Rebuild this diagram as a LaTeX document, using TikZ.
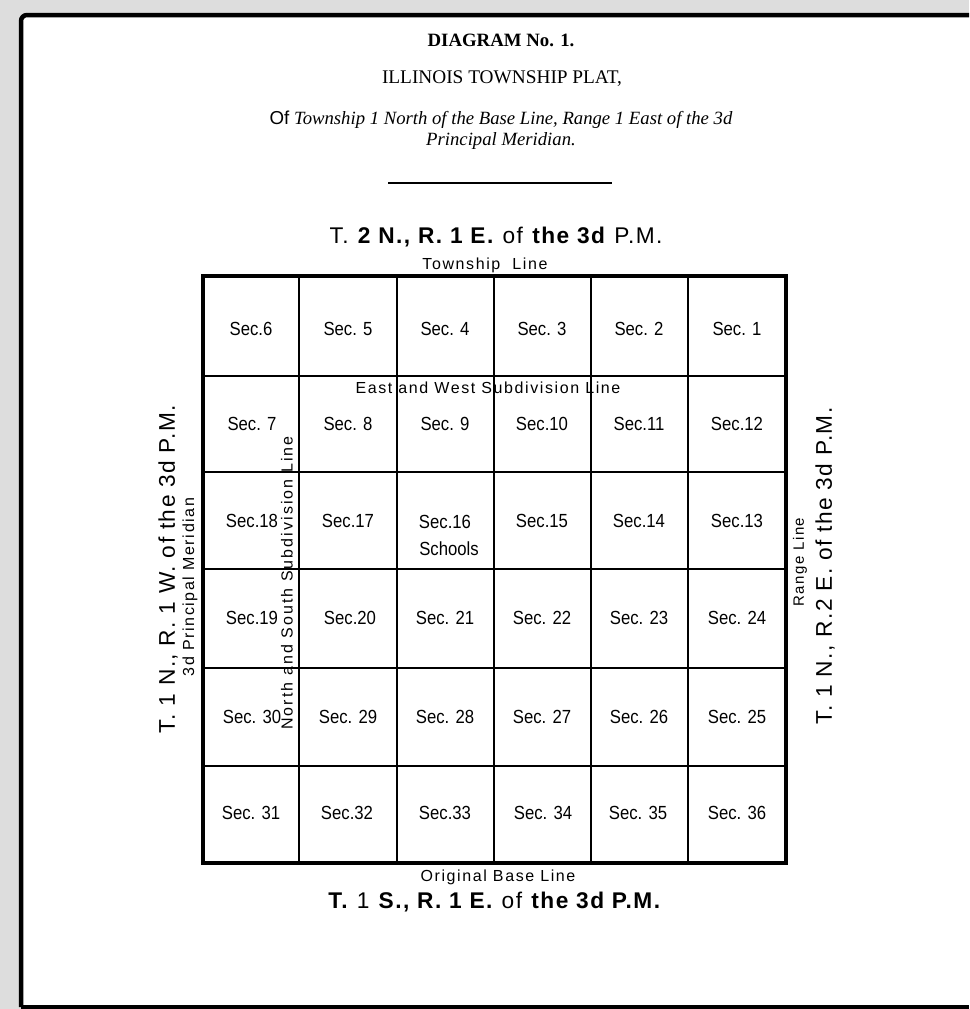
\documentclass[tikz,border=0pt]{standalone}
\usepackage{fontspec}
\setmainfont{Liberation Serif}
\setsansfont{Liberation Sans}
\newfontfamily\bigsans[LetterSpace=6.5]{Liberation Sans}
\newfontfamily\smallsans[LetterSpace=10]{Liberation Sans}
\newfontfamily\nssans[LetterSpace=13]{Liberation Sans}
\newfontfamily\secsans[FakeStretch=0.88]{Liberation Sans}
\definecolor{pagegray}{RGB}{221,221,221}
\tikzset{
  sec/.style={font=\secsans\fontsize{19}{21}\selectfont, inner sep=0pt},
  biglabel/.style={font=\bigsans\fontsize{22.7}{24}\selectfont, inner sep=0pt},
  smalllabel/.style={font=\smallsans\fontsize{16}{18}\selectfont, inner sep=0pt},
  serifline/.style={font=\fontsize{19}{21}\selectfont, inner sep=0pt},
  outer/.style={line width=3.5pt},
  inner/.style={line width=1.8pt}
}
\begin{document}
\begin{tikzpicture}[x=1pt,y=-1pt]
\useasboundingbox (0,0) rectangle (969,1009);
\fill[pagegray] (0,0) rectangle (969,1009);
\fill[white] (21,15) rectangle (969,1007);
\draw[line width=4.5pt, rounded corners=6pt] (21,1007) -- (21,15) -- (969,15);
\draw[line width=4pt] (21,1007) -- (969,1007);

% headings
\node[serifline, font=\bfseries\fontsize{18.8}{21}\selectfont] (title) at (501,40) {DIAGRAM No. 1.};
\node[serifline, font=\fontsize{19.3}{21}\selectfont] (plat) at (502,79) {ILLINOIS TOWNSHIP PLAT,};
\node[serifline, align=center, font=\itshape\fontsize{18.7}{21}\selectfont] (desc) at (501,130)
  {{\sffamily\upshape Of} Township 1 North of the Base Line, Range 1 East of the 3d\\Principal Meridian.};
\coordinate (ruleA) at (388,183);
\coordinate (ruleB) at (612,183);
\draw[line width=1.5pt] (ruleA) -- (ruleB);

% outer labels
\node[biglabel] (north) at (496,237) {T. \textbf{2 N., R. 1 E.} of \textbf{the 3d} P.M.};
\node[smalllabel] (twpline) at (485,265) {Township\ \ Line};
\node[smalllabel] (baseline) at (498,877) {Original Base Line};
\node[biglabel] (south) at (495,902) {\textbf{T.} 1 \textbf{S., R. 1 E.} of \textbf{the 3d P.M.}};
\node[biglabel, rotate=90] (west) at (168,569) {T. 1 N., R. 1 W. of the 3d P.M.};
\node[smalllabel, font=\smallsans\fontsize{16}{18}\selectfont, rotate=90] (meridian) at (190,587) {3d\ Principal\ Meridian};
\node[biglabel, rotate=90] (east) at (825,566) {T. 1 N., R.2 E. of the 3d P.M.};
\node[smalllabel, font=\smallsans\fontsize{15}{17}\selectfont, rotate=90] (rangeline) at (800,562) {Range Line};

% subdivision lines labels (drawn under the grid)
\node[smalllabel] (ewline) at (488,388) {East and West Subdivision Line};
\node[smalllabel, font=\nssans\fontsize{16}{18}\selectfont, rotate=90] (nsline) at (287,583) {North and South Subdivision Line};

% grid
\foreach \x in {299,397,494,591,688}
  \draw[inner] (\x,276) -- (\x,863);
\foreach \y in {376,472,569,668,766}
  \draw[inner] (203,\y) -- (786,\y);
\draw[outer] (203,276) rectangle (786,863);

% sections
\foreach \x/\y/\t/\n in {
  251/329/{Sec.6}/6, 348/329/{Sec. 5}/5, 445/329/{Sec. 4}/4, 542/329/{Sec. 3}/3, 639/329/{Sec. 2}/2, 737/329/{Sec. 1}/1,
  252/424/{Sec. 7}/7, 348/424/{Sec. 8}/8, 445/424/{Sec. 9}/9, 542/424/{Sec.10}/10, 639/424/{Sec.11}/11, 737/424/{Sec.12}/12,
  252/521/{Sec.18}/18, 348/521/{Sec.17}/17, 542/521/{Sec.15}/15, 639/521/{Sec.14}/14, 737/521/{Sec.13}/13,
  252/618/{Sec.19}/19, 350/618/{Sec.20}/20, 445/618/{Sec. 21}/21, 542/618/{Sec. 22}/22, 639/618/{Sec. 23}/23, 737/618/{Sec. 24}/24,
  252/717/{Sec. 30}/30, 348/717/{Sec. 29}/29, 445/717/{Sec. 28}/28, 542/717/{Sec. 27}/27, 639/717/{Sec. 26}/26, 737/717/{Sec. 25}/25,
  251/813/{Sec. 31}/31, 347/813/{Sec.32}/32, 445/813/{Sec.33}/33, 543/813/{Sec. 34}/34, 638/813/{Sec. 35}/35, 737/813/{Sec. 36}/36}
  \node[sec] (sec\n) at (\x,\y) {\t};
\node[sec] (sec16) at (445,522) {Sec.16};
\node[sec] (schools) at (449,549) {Schools};
\end{tikzpicture}
\end{document}
